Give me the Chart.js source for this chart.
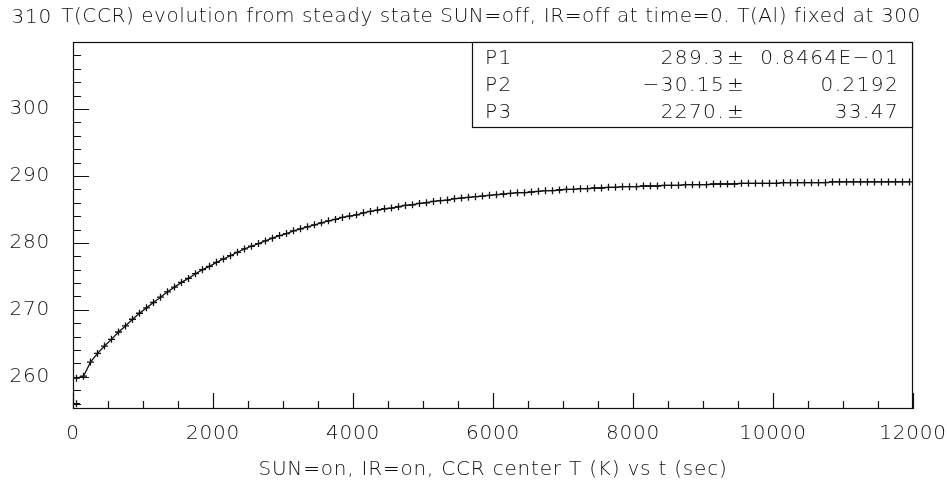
<!DOCTYPE html>
<html>
<head>
<meta charset="utf-8">
<script src="https://cdn.jsdelivr.net/npm/chart.js@4.4.1/dist/chart.umd.min.js"></script>
<style>
  html, body { margin: 0; padding: 0; background: #fff; }
  #wrap { width: 947px; height: 493px; }
</style>
</head>
<body>
<div id="wrap"><canvas id="c" width="947" height="493"></canvas></div>
<script>
// ---- data ----
const titleText = 'T(CCR) evolution from steady state SUN=off, IR=off at time=0. T(Al) fixed at 300';
const xAxisTitle = 'SUN=on, IR=on, CCR center T (K) vs t (sec)';

const xTickValues = [0, 2000, 4000, 6000, 8000, 10000, 12000];
const yTickValues = [260, 270, 280, 290, 300, 310];

const timeSec = [
  50, 150, 250, 350, 450, 550, 650, 750, 850, 950,
  1050, 1150, 1250, 1350, 1450, 1550, 1650, 1750, 1850, 1950,
  2050, 2150, 2250, 2350, 2450, 2550, 2650, 2750, 2850, 2950,
  3050, 3150, 3250, 3350, 3450, 3550, 3650, 3750, 3850, 3950,
  4050, 4150, 4250, 4350, 4450, 4550, 4650, 4750, 4850, 4950,
  5050, 5150, 5250, 5350, 5450, 5550, 5650, 5750, 5850, 5950,
  6050, 6150, 6250, 6350, 6450, 6550, 6650, 6750, 6850, 6950,
  7050, 7150, 7250, 7350, 7450, 7550, 7650, 7750, 7850, 7950,
  8050, 8150, 8250, 8350, 8450, 8550, 8650, 8750, 8850, 8950,
  9050, 9150, 9250, 9350, 9450, 9550, 9650, 9750, 9850, 9950,
  10050, 10150, 10250, 10350, 10450, 10550, 10650, 10750, 10850, 10950,
  11050, 11150, 11250, 11350, 11450, 11550, 11650, 11750, 11850, 11950
];
const ccrTempK = [
  259.8, 260.1, 262.2, 263.5, 264.6, 265.6, 266.7, 267.6, 268.6, 269.5,
  270.3, 271.1, 271.9, 272.7, 273.4, 274.1, 274.7, 275.4, 276.0, 276.5,
  277.1, 277.6, 278.1, 278.6, 279.1, 279.5, 279.9, 280.3, 280.7, 281.1,
  281.4, 281.8, 282.1, 282.4, 282.7, 283.0, 283.3, 283.5, 283.8, 284.0,
  284.2, 284.5, 284.7, 284.9, 285.1, 285.2, 285.4, 285.6, 285.7, 285.9,
  286.0, 286.2, 286.3, 286.4, 286.6, 286.7, 286.8, 286.9, 287.0, 287.1,
  287.2, 287.3, 287.4, 287.5, 287.5, 287.6, 287.7, 287.8, 287.8, 287.9,
  288.0, 288.0, 288.1, 288.1, 288.2, 288.2, 288.3, 288.3, 288.4, 288.4,
  288.4, 288.5, 288.5, 288.5, 288.6, 288.6, 288.6, 288.7, 288.7, 288.7,
  288.7, 288.8, 288.8, 288.8, 288.8, 288.9, 288.9, 288.9, 288.9, 288.9,
  288.9, 289.0, 289.0, 289.0, 289.0, 289.0, 289.0, 289.0, 289.1, 289.1,
  289.1, 289.1, 289.1, 289.1, 289.1, 289.1, 289.1, 289.1, 289.1, 289.1
];
const strayTime = [50];
const strayTempK = [256.0];

const paramNames = ['P1', 'P2', 'P3'];
const paramValues = ['289.3', '\u221230.15', '2270.'];
const paramErrors = ['0.8464E\u221201', '0.2192', '33.47'];

// ---- rendering ----
const FONT = '"DejaVu Sans", sans-serif';
const WEIGHT = '300';
const INK = '#111';
const SPACING = '0.8px';

const pts = timeSec.map((t, i) => ({ x: t, y: ccrTempK[i] }));
const stray = strayTime.map((t, i) => ({ x: t, y: strayTempK[i] }));

const pawPlugin = {
  id: 'pawStyle',
  beforeDraw(chart) {
    chart.ctx.letterSpacing = SPACING;
  },
  afterDraw(chart) {
    const { ctx, chartArea: a, scales } = chart;
    const xs = scales.x, ys = scales.y;
    ctx.save();
    ctx.letterSpacing = SPACING;
    ctx.strokeStyle = '#111';
    ctx.lineWidth = 1.2;
    // frame
    ctx.strokeRect(Math.round(a.left) + 0.5, Math.round(a.top) + 0.5,
                   Math.round(a.right - a.left) - 1, Math.round(a.bottom - a.top) - 1);
    // x ticks (inward)
    const xStep = xTickValues[1] - xTickValues[0];
    const xMinor = xStep / 4;
    ctx.beginPath();
    for (let v = xs.min; v <= xs.max + 1e-6; v += xMinor) {
      const px = Math.round(xs.getPixelForValue(v)) + 0.5;
      const major = Math.abs(v / xStep - Math.round(v / xStep)) < 1e-6;
      ctx.moveTo(px, a.bottom);
      ctx.lineTo(px, a.bottom - (major ? 16 : 8));
    }
    // y ticks (inward)
    const yStep = yTickValues[1] - yTickValues[0];
    const yMinor = yStep / 5;
    const yStart = Math.ceil(ys.min / yMinor) * yMinor;
    for (let v = yStart; v <= ys.max + 1e-6; v += yMinor) {
      const py = Math.round(ys.getPixelForValue(v)) + 0.5;
      const major = Math.abs(v / yStep - Math.round(v / yStep)) < 1e-6;
      ctx.moveTo(a.left, py);
      ctx.lineTo(a.left + (major ? 16 : 8), py);
    }
    ctx.stroke();

    const f = WEIGHT + ' 20px ' + FONT;
    ctx.fillStyle = INK;
    // top y label, shifted above the frame as in the reference
    ctx.font = f;
    ctx.textAlign = 'right';
    ctx.textBaseline = 'middle';
    ctx.fillText(String(yTickValues[yTickValues.length - 1]), a.left - 21, 18);

    // title
    ctx.letterSpacing = '0.58px';
    ctx.textAlign = 'center';
    ctx.fillText(titleText, 491, 17);
    ctx.letterSpacing = SPACING;

    // x axis title
    ctx.fillText(xAxisTitle, (a.left + a.right) / 2, 470);

    // stats box
    const bx = 472, by = Math.round(a.top), bw = Math.round(a.right) - 472, bh = 128 - by;
    ctx.fillStyle = '#fff';
    ctx.fillRect(bx, by, bw, bh);
    ctx.strokeRect(bx + 0.5, by + 0.5, bw - 1, bh - 1);
    ctx.fillStyle = INK;
    ctx.letterSpacing = '1.4px';
    const rowY = [59, 86, 113];
    paramNames.forEach((n, i) => {
      ctx.textAlign = 'left';
      ctx.fillText(n, 485, rowY[i]);
      ctx.textAlign = 'right';
      ctx.fillText(paramValues[i], 725, rowY[i]);
      ctx.textAlign = 'left';
      ctx.fillText('\u00b1', 727, rowY[i]);
      ctx.textAlign = 'right';
      ctx.fillText(paramErrors[i], 899, rowY[i]);
    });
    ctx.restore();
  }
};

new Chart(document.getElementById('c'), {
  type: 'scatter',
  data: {
    datasets: [
      {
        data: pts,
        showLine: true,
        borderColor: '#111',
        borderWidth: 1.3,
        pointStyle: 'cross',
        pointRadius: 3.5,
        pointBorderWidth: 1.3,
        pointBorderColor: '#111',
        pointBackgroundColor: '#111',
        tension: 0
      },
      {
        data: stray,
        showLine: false,
        pointStyle: 'cross',
        pointRadius: 3.5,
        pointBorderWidth: 1.3,
        pointBorderColor: '#111'
      }
    ]
  },
  options: {
    responsive: false,
    animation: false,
    events: [],
    layout: { padding: { top: 42, right: 34, left: 0, bottom: 0 } },
    plugins: { legend: { display: false }, tooltip: { enabled: false }, title: { display: false } },
    scales: {
      x: {
        type: 'linear',
        min: 0, max: 12000,
        afterBuildTicks: s => { s.ticks = xTickValues.map(v => ({ value: v })); },
        afterFit: s => { s.height = 84; s.paddingLeft = 0; s.paddingRight = 0; },
        grid: { display: false, drawTicks: false },
        border: { display: false },
        ticks: { color: INK, font: { family: FONT, size: 20, weight: WEIGHT }, padding: 13, maxRotation: 0,
                 callback: v => String(v) }
      },
      y: {
        type: 'linear',
        min: 255.2, max: 310,
        afterBuildTicks: s => { s.ticks = yTickValues.map(v => ({ value: v })); },
        afterFit: s => { s.width = 73; s.paddingTop = 0; s.paddingBottom = 0; },
        grid: { display: false, drawTicks: false },
        border: { display: false },
        ticks: { color: INK, font: { family: FONT, size: 20, weight: WEIGHT }, padding: 23,
                 callback: v => (v === yTickValues[yTickValues.length - 1] ? '' : String(v)) }
      }
    }
  },
  plugins: [pawPlugin]
});
</script>
</body>
</html>
